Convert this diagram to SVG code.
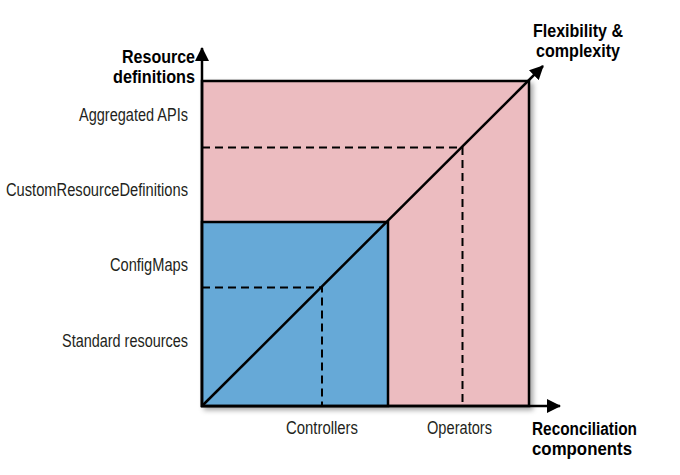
<svg xmlns="http://www.w3.org/2000/svg" width="680" height="475" viewBox="0 0 680 475">
<style>
.lbl{font-family:"Liberation Sans",Arial,sans-serif;font-size:17.5px;fill:#231f20}
.ttl{font-family:"Liberation Sans",Arial,sans-serif;font-size:17.5px;font-weight:bold;fill:#000}
.solid{stroke:#000;stroke-width:2.5;fill:none}
.dash{stroke:#000;stroke-width:2;fill:none;stroke-dasharray:8 5}
</style>
<defs>
<filter id="sh" x="-10%" y="-10%" width="130%" height="130%">
<feDropShadow dx="3" dy="3" stdDeviation="2.5" flood-color="#000" flood-opacity="0.35"/>
</filter>
<marker id="ah2" markerWidth="14" markerHeight="14" refX="13" refY="7" orient="auto" markerUnits="userSpaceOnUse" viewBox="0 0 14 14">
<path d="M0,0 L14,7 L0,14 Z" fill="#000"/>
</marker>
</defs>
<g id="operators-area">
<rect x="202" y="81" width="327" height="325" fill="#ecbcc0" stroke="#000" stroke-width="2.5" filter="url(#sh)"/>
</g>
<g id="controllers-area">
<rect x="202" y="222" width="186" height="184" fill="#66a9d7" stroke="#000" stroke-width="2.5"/>
</g>
<g id="connectors">
<path class="dash" d="M202,147.5 H462.5 V406"/>
<path class="dash" d="M202,287.5 H322 V406"/>
<line class="solid" x1="202" y1="406" x2="543" y2="66" marker-end="url(#ah2)"/>
<line class="solid" x1="202" y1="407" x2="202" y2="48" marker-end="url(#ah2)"/>
<line class="solid" x1="201" y1="406" x2="560" y2="406" marker-end="url(#ah2)"/>
</g>
<g id="y-axis-labels">
<text class="ttl" x="195" y="63" text-anchor="end" textLength="73" lengthAdjust="spacingAndGlyphs">Resource</text>
<text class="ttl" x="195" y="83" text-anchor="end" textLength="82" lengthAdjust="spacingAndGlyphs">definitions</text>
<text class="lbl" x="188" y="120.5" text-anchor="end" textLength="109" lengthAdjust="spacingAndGlyphs">Aggregated APIs</text>
<text class="lbl" x="188" y="196" text-anchor="end" textLength="182" lengthAdjust="spacingAndGlyphs">CustomResourceDefinitions</text>
<text class="lbl" x="188" y="271" text-anchor="end" textLength="78" lengthAdjust="spacingAndGlyphs">ConfigMaps</text>
<text class="lbl" x="188" y="347" text-anchor="end" textLength="126" lengthAdjust="spacingAndGlyphs">Standard resources</text>
</g>
<g id="x-axis-labels">
<text class="lbl" x="286" y="434" textLength="72" lengthAdjust="spacingAndGlyphs">Controllers</text>
<text class="lbl" x="427" y="434" textLength="65" lengthAdjust="spacingAndGlyphs">Operators</text>
<text class="ttl" x="532" y="435" textLength="105" lengthAdjust="spacingAndGlyphs">Reconciliation</text>
<text class="ttl" x="532" y="455" textLength="100" lengthAdjust="spacingAndGlyphs">components</text>
</g>
<g id="diagonal-label">
<text class="ttl" x="533" y="37" textLength="90" lengthAdjust="spacingAndGlyphs">Flexibility &amp;</text>
<text class="ttl" x="536" y="57" textLength="84" lengthAdjust="spacingAndGlyphs">complexity</text>
</g>
</svg>
